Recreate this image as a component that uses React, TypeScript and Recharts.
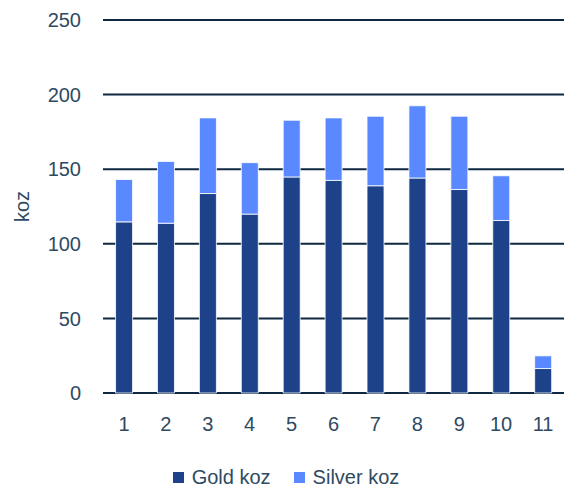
import { BarChart, Bar, XAxis, YAxis, CartesianGrid, Legend } from "recharts";

const periods = ["1", "2", "3", "4", "5", "6", "7", "8", "9", "10", "11"];
const goldKoz = [114.7, 113.8, 133.7, 119.9, 144.8, 142.5, 138.9, 144.1, 136.4, 115.6, 16.4];
const silverKoz = [28.4, 41.4, 50.7, 34.5, 38.0, 41.9, 46.6, 48.4, 49.1, 30.0, 8.5];
const yTicks = [0, 50, 100, 150, 200, 250];

const data = periods.map((p, i) => ({ period: p, gold: goldKoz[i], silver: silverKoz[i] }));

const textColor = "#2E4A62";
const gridColor = "#0E2841";
const font = "'Liberation Sans', Arial, sans-serif";

const renderLegend = (props: any) => {
  const { payload } = props;
  return (
    <div
      style={{
        display: "flex",
        justifyContent: "center",
        gap: 23,
        paddingTop: 14,
        paddingLeft: 8,
        fontSize: 20,
        fontFamily: font,
        color: textColor,
        lineHeight: "24px",
      }}
    >
      {payload.map((entry: any) => (
        <div key={entry.value} style={{ display: "flex", alignItems: "center" }}>
          <span
            style={{
              display: "inline-block",
              width: 11,
              height: 11,
              background: entry.color,
              marginRight: 8,
            }}
          />
          <span>{entry.value}</span>
        </div>
      ))}
    </div>
  );
};

export default function App() {
  return (
    <div style={{ position: "absolute", left: 0, top: 0, fontFamily: font }}>
      <BarChart
        width={568}
        height={491}
        data={data}
        margin={{ top: 20, right: 4, left: 0, bottom: 4 }}
        barCategoryGap="30%"
      >
        <CartesianGrid vertical={false} stroke={gridColor} strokeWidth={2} />
        <XAxis
          dataKey="period"
          axisLine={false}
          tickLine={false}
          tickMargin={18}
          height={58}
          tick={{ fill: textColor, fontSize: 20, fontFamily: font }}
        />
        <YAxis
          width={103}
          domain={[0, 250]}
          ticks={yTicks}
          axisLine={false}
          tickLine={false}
          tickMargin={16}
          tick={{ fill: textColor, fontSize: 20, fontFamily: font }}
          label={{
            value: "koz",
            content: ({ viewBox }: any) => {
              const cx = viewBox.x + 22;
              const cy = viewBox.y + viewBox.height / 2;
              return (
                <text
                  x={cx}
                  y={cy}
                  fill={textColor}
                  fontSize={20}
                  fontFamily={font}
                  textAnchor="middle"
                  dominantBaseline="central"
                  transform={`rotate(-90 ${cx} ${cy})`}
                >
                  koz
                </text>
              );
            },
          }}
        />
        <Legend verticalAlign="bottom" height={36} content={renderLegend} />
        <Bar
          dataKey="gold"
          name="Gold koz"
          stackId="a"
          fill="#1E428A"
          stroke="#FFFFFF"
          strokeWidth={0.8}
          isAnimationActive={false}
        />
        <Bar
          dataKey="silver"
          name="Silver koz"
          stackId="a"
          fill="#5A89FF"
          stroke="#FFFFFF"
          strokeWidth={0.8}
          isAnimationActive={false}
        />
      </BarChart>
    </div>
  );
}
